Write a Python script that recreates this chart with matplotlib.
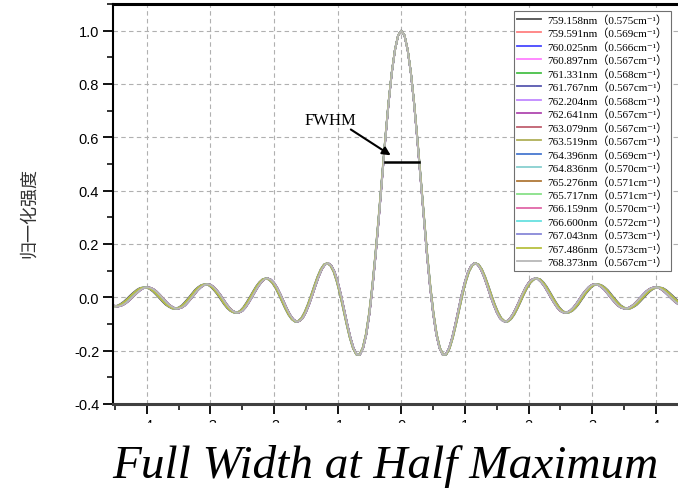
import numpy as np
import matplotlib.pyplot as plt
from matplotlib.patches import Rectangle
from matplotlib.ticker import MultipleLocator

plt.rcParams['axes.unicode_minus'] = False

# wavelength of each measured line and its fitted FWHM (cm^-1)
wavelengths = ['759.158', '759.591', '760.025', '760.897', '761.331', '761.767',
               '762.204', '762.641', '763.079', '763.519', '764.396', '764.836',
               '765.276', '765.717', '766.159', '766.600', '767.043', '767.486',
               '768.373']
fwhm_vals = [0.575, 0.569, 0.566, 0.567, 0.568, 0.567, 0.568, 0.567, 0.567,
             0.567, 0.569, 0.570, 0.571, 0.571, 0.570, 0.572, 0.573, 0.573,
             0.567]
line_colors = ['#505050', '#ff8080', '#4848ff', '#ff80ff', '#48c048', '#5858b0',
               '#c088ff', '#b048b0', '#c06070', '#b0b058', '#4878d0', '#88d0d0',
               '#b07838', '#88e088', '#e068a8', '#68e0e0', '#8888d8', '#b8c040',
               '#b8b8b8']

# normalised profile (reference width 0.567 cm^-1), step 0.05
offset = np.linspace(-4.5, 4.5, 181)
intensity = [
    # -4.50 .. -0.05
    -0.032, -0.034, -0.031, -0.025, -0.016, -0.005, 0.007, 0.018, 0.028, 0.035,
    0.037, 0.036, 0.031, 0.022, 0.010, -0.003, -0.016, -0.028, -0.036, -0.042,
    -0.042, -0.038, -0.030, -0.017, -0.003, 0.012, 0.027, 0.038, 0.046, 0.049,
    0.047, 0.039, 0.026, 0.011, -0.007, -0.025, -0.040, -0.051, -0.057, -0.057,
    -0.051, -0.038, -0.020, 0.000, 0.021, 0.041, 0.057, 0.068, 0.071, 0.066,
    0.054, 0.035, 0.011, -0.016, -0.042, -0.065, -0.082, -0.091, -0.089, -0.078,
    -0.056, -0.027, 0.007, 0.043, 0.077, 0.105, 0.123, 0.128, 0.119, 0.096,
    0.058, 0.011, -0.044, -0.100, -0.151, -0.191, -0.214, -0.215, -0.190, -0.139,
    -0.060, 0.044, 0.168, 0.307, 0.452, 0.595, 0.728, 0.841, 0.927, 0.982,
    # 0
    1.000,
    # 0.05 .. 4.50
    0.982, 0.927, 0.841, 0.728, 0.595, 0.452, 0.307, 0.168, 0.044, -0.060,
    -0.139, -0.190, -0.215, -0.214, -0.191, -0.151, -0.100, -0.044, 0.011, 0.058,
    0.096, 0.119, 0.128, 0.123, 0.105, 0.077, 0.043, 0.007, -0.027, -0.056,
    -0.078, -0.089, -0.091, -0.082, -0.065, -0.042, -0.016, 0.011, 0.035, 0.054,
    0.066, 0.071, 0.068, 0.057, 0.041, 0.021, 0.000, -0.020, -0.038, -0.051,
    -0.057, -0.057, -0.051, -0.040, -0.025, -0.007, 0.011, 0.026, 0.039, 0.047,
    0.049, 0.046, 0.038, 0.027, 0.012, -0.003, -0.017, -0.030, -0.038, -0.042,
    -0.042, -0.036, -0.028, -0.016, -0.003, 0.010, 0.022, 0.031, 0.036, 0.037,
    0.035, 0.028, 0.018, 0.007, -0.005, -0.016, -0.025, -0.031, -0.034, -0.032,
]
ref_fwhm = 0.567

fig = plt.figure(figsize=(6.78, 4.89), dpi=100)
ax = fig.add_axes([0.1667, 0.1718, 0.8476, 0.818])

for wl, fw, c in zip(wavelengths, fwhm_vals, line_colors):
    ax.plot(offset * fw / ref_fwhm, intensity, color=c, lw=1.3,
            label=f'{wl}nm（{fw:.3f}cm⁻¹）')

# FWHM marker
ax.plot([-0.26, 0.28], [0.508, 0.508], color='black', lw=1.8)
ax.annotate('', xy=(-0.13, 0.527), xytext=(-0.83, 0.635),
            arrowprops=dict(arrowstyle='-|>', color='black', lw=1.5,
                            mutation_scale=12))
ax.text(-1.11, 0.665, 'FWHM', family='Liberation Serif', fontsize=12,
        ha='center', va='center')

ax.set_xlim(-4.53, 4.5)
ax.set_ylim(-0.4, 1.1)
ax.xaxis.set_major_locator(MultipleLocator(1))
ax.xaxis.set_minor_locator(MultipleLocator(0.5))
ax.yaxis.set_minor_locator(MultipleLocator(0.1))
ax.set_yticks([-0.4, -0.2, 0.0, 0.2, 0.4, 0.6, 0.8, 1.0])
ax.set_yticklabels(['-0.4', '-0.2', '0.0', '0.2', '0.4', '0.6', '0.8', '1.0'])
ax.grid(True, which='major', color='#b0b0b0', ls=(0, (4, 3)), lw=0.8)
ax.tick_params(which='major', direction='out', length=7, width=1.3,
               labelsize=10.5, pad=3)
ax.tick_params(which='minor', direction='out', length=4, width=1.1)
for lab in ax.get_xticklabels() + ax.get_yticklabels():
    lab.set_family('Liberation Sans')
ax.spines['left'].set_linewidth(1.5)
ax.spines['top'].set_linewidth(2.2)
ax.spines['bottom'].set_linewidth(2.2)
ax.spines['bottom'].set_color('#404040')
ax.spines['right'].set_visible(False)

ax.set_ylabel('归一化强度', family=['Noto Sans CJK SC', 'DejaVu Sans'],
              fontsize=13, color='#333333')
ax.yaxis.set_label_coords(-0.131, 0.48)

leg = ax.legend(loc='upper left', bbox_to_anchor=(0.698, 0.9825),
                borderaxespad=0, fancybox=False, framealpha=1,
                edgecolor='#707070', handlelength=2.1, handletextpad=0.6,
                borderpad=0.3, labelspacing=0.26,
                prop={'family': ['Liberation Serif', 'Noto Sans CJK SC', 'DejaVu Sans'],
                      'size': 8})
leg.get_frame().set_linewidth(0.8)

# caption band covering the tick labels
fig.add_artist(Rectangle((0, 0), 1, (489 - 424) / 489, transform=fig.transFigure,
                         color='white', zorder=10))
fig.text(0.569, (489 - 478) / 489, 'Full Width at Half Maximum',
         family='Liberation Serif', style='italic', fontsize=34,
         ha='center', va='baseline', zorder=11)

fig.savefig('out.png', dpi=100)
